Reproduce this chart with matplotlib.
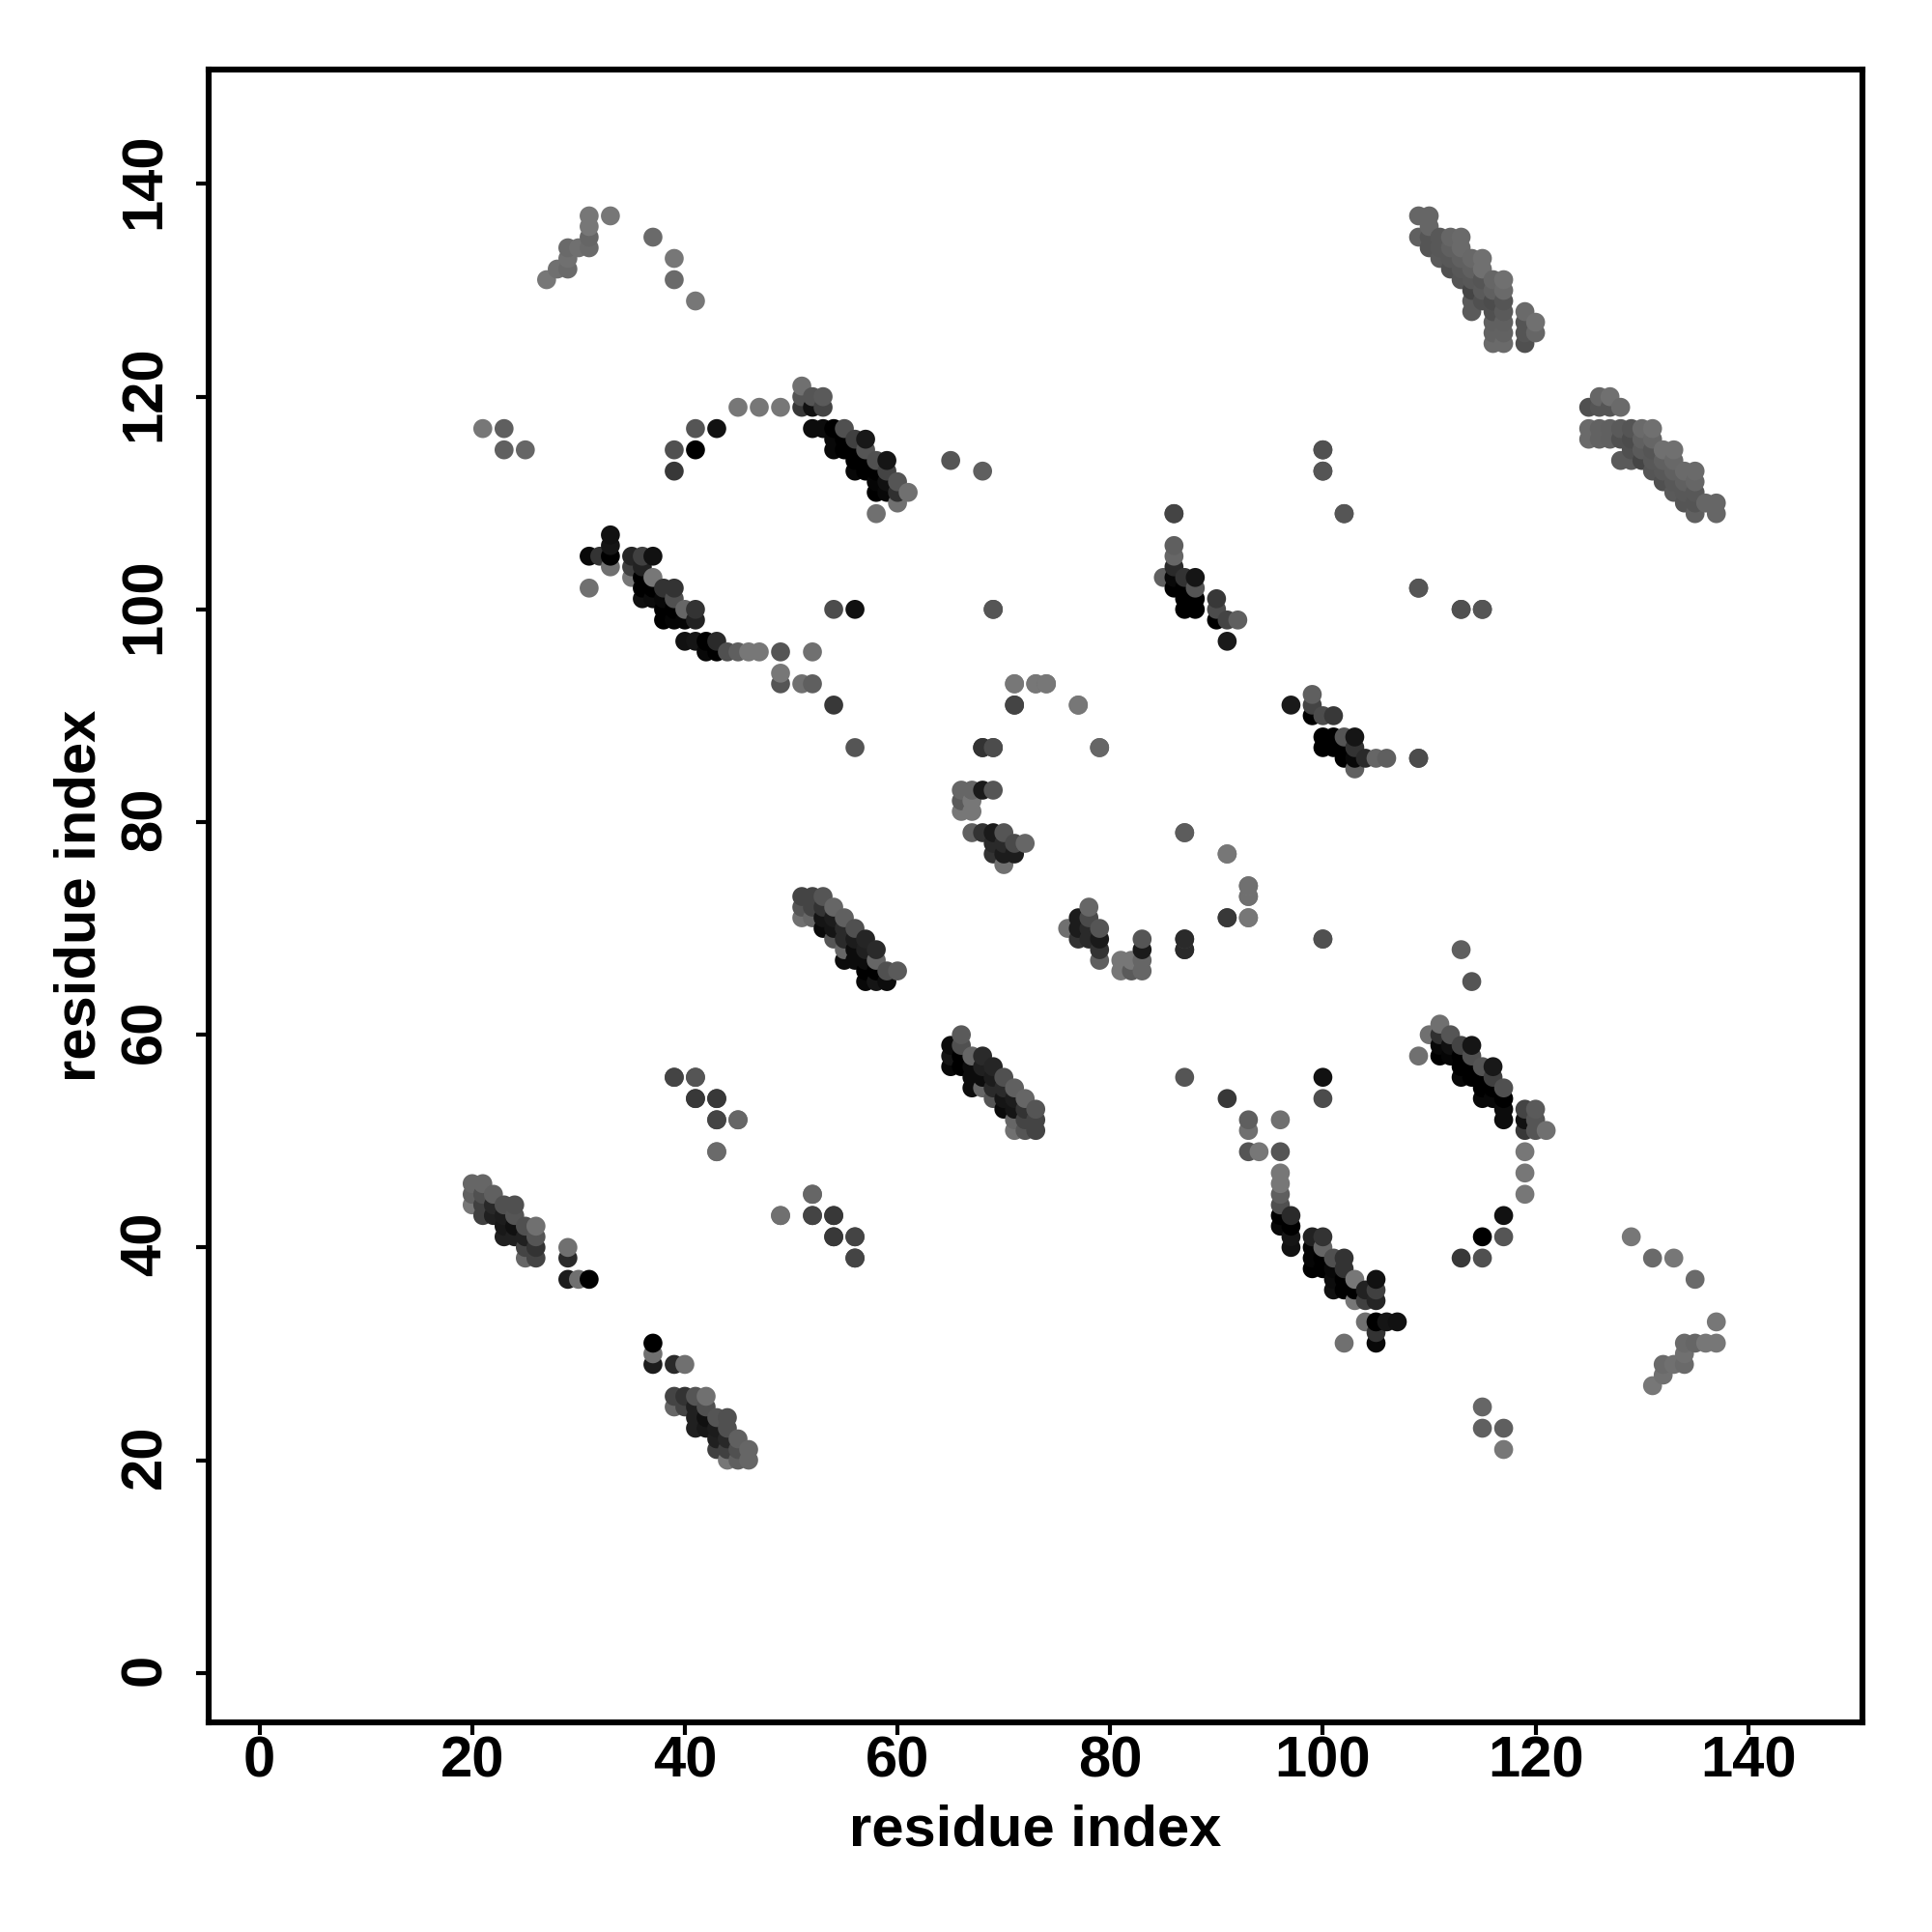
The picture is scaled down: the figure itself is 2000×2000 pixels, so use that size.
import numpy as np
import matplotlib
matplotlib.use("Agg")
import matplotlib.pyplot as plt
from matplotlib.transforms import ScaledTranslation

plt.rcParams["font.family"] = ["Liberation Sans", "DejaVu Sans"]

# contacts as (residue, residue, grey level 0-255), one triangle only
BLOCK_A = [
    (20, 46, 0x66), (21, 46, 0x66),
    (20, 45, 0x60), (21, 45, 0x50), (22, 45, 0x60),
    (20, 44, 0x77), (21, 44, 0x40), (22, 44, 0x28), (23, 44, 0x50), (24, 44, 0x50),
    (21, 43, 0x40), (22, 43, 0x20), (23, 43, 0x1c), (24, 43, 0x55),
    (23, 42, 0x18), (24, 42, 0x10), (25, 42, 0x50), (26, 42, 0x70),
    (23, 41, 0x20), (24, 41, 0x20), (25, 41, 0x20), (26, 41, 0x55),
    (25, 40, 0x44), (26, 40, 0x33), (25, 39, 0x66), (26, 39, 0x44),
    (29, 40, 0x70), (29, 39, 0x2a), (29, 37, 0x1c), (30, 37, 0x70), (31, 37, 0x00),
]
BLOCK_B = [
    (39, 56, 0x44), (41, 56, 0x44), (41, 54, 0x38), (43, 54, 0x38), (43, 52, 0x44),
    (45, 52, 0x66), (43, 49, 0x70), (52, 45, 0x66), (49, 43, 0x6a), (52, 43, 0x44),
    (54, 43, 0x38), (54, 41, 0x38), (56, 41, 0x55), (56, 39, 0x44),
]
BLOCK_C = [
    (31, 137, 0x77), (33, 137, 0x77), (31, 136, 0x77), (31, 135, 0x66), (31, 134, 0x6a),
    (30, 134, 0x70), (29, 134, 0x6a), (29, 133, 0x70), (29, 132, 0x6a), (28, 132, 0x70),
    (27, 131, 0x77), (37, 135, 0x6a), (39, 133, 0x77), (39, 131, 0x6a), (41, 129, 0x77),
    (21, 117, 0x77), (23, 117, 0x5f), (23, 115, 0x60), (25, 115, 0x66),
    (45, 119, 0x77), (47, 119, 0x77), (49, 119, 0x77), (41, 117, 0x55), (43, 117, 0x11),
    (39, 115, 0x50), (41, 115, 0x00), (39, 113, 0x38),
]
BLOCK_D = [
    (33, 107, 0x11), (33, 106, 0x15), (33, 105, 0x00), (31, 105, 0x08), (32, 105, 0x33),
    (33, 104, 0x70), (31, 102, 0x70),
    (35, 105, 0x25), (36, 105, 0x40), (37, 105, 0x11), (35, 104, 0x40), (36, 104, 0x22),
    (35, 103, 0x77), (36, 103, 0x00), (37, 103, 0x77), (36, 102, 0x00), (37, 102, 0x00),
    (38, 102, 0x33), (39, 102, 0x33), (36, 101, 0x10), (37, 101, 0x0c), (38, 101, 0x08),
    (39, 101, 0x50), (38, 100, 0x00), (39, 100, 0x00), (40, 100, 0x66), (41, 100, 0x33),
    (38, 99, 0x00), (39, 99, 0x05), (40, 99, 0x05), (41, 99, 0x22),
    (40, 97, 0x11), (41, 97, 0x15), (42, 97, 0x00), (43, 97, 0x2a), (42, 96, 0x08),
    (43, 96, 0x00), (44, 96, 0x50), (45, 96, 0x5f), (46, 96, 0x77), (47, 96, 0x77),
    (49, 96, 0x55), (52, 96, 0x70), (49, 94, 0x77), (49, 93, 0x55), (51, 93, 0x70),
    (52, 93, 0x5f), (54, 91, 0x38), (56, 87, 0x55), (54, 100, 0x4c), (56, 100, 0x11),
]
BLOCK_E = [
    (51, 121, 0x70), (51, 120, 0x55), (52, 120, 0x55), (53, 120, 0x5a), (51, 119, 0x38),
    (52, 119, 0x11), (53, 119, 0x44),
    (52, 117, 0x0c), (53, 117, 0x0c), (54, 117, 0x00), (55, 117, 0x50),
    (54, 116, 0x08), (55, 116, 0x00), (56, 116, 0x40), (57, 116, 0x18),
    (54, 115, 0x08), (55, 115, 0x00), (56, 115, 0x00), (57, 115, 0x55),
    (56, 114, 0x00), (57, 114, 0x00), (58, 114, 0x50), (59, 114, 0x15),
    (56, 113, 0x08), (57, 113, 0x00), (58, 113, 0x00), (59, 113, 0x44),
    (58, 112, 0x05), (59, 112, 0x10), (60, 112, 0x55),
    (58, 111, 0x00), (59, 111, 0x08), (60, 111, 0x30), (61, 111, 0x70),
    (60, 110, 0x70), (58, 109, 0x70), (65, 114, 0x55), (68, 113, 0x5f),
]
BLOCK_F = [
    (86, 109, 0x4c), (86, 106, 0x5f), (86, 105, 0x66), (86, 104, 0x2a), (85, 103, 0x60),
    (86, 103, 0x08), (86, 102, 0x00), (87, 103, 0x33), (88, 103, 0x15), (87, 102, 0x00),
    (88, 102, 0x55), (87, 101, 0x00), (88, 101, 0x00), (87, 100, 0x00), (88, 100, 0x00),
    (90, 101, 0x38), (90, 100, 0x4c), (90, 99, 0x00), (91, 99, 0x44), (92, 99, 0x5f),
    (91, 97, 0x1a), (100, 115, 0x55), (100, 113, 0x50), (102, 109, 0x55), (109, 102, 0x55),
    (113, 100, 0x55), (115, 100, 0x50), (69, 100, 0x50), (109, 86, 0x44),
]
BLOCK_G = [
    (71, 93, 0x77), (73, 93, 0x70), (74, 93, 0x70), (71, 91, 0x38), (77, 91, 0x77),
    (79, 87, 0x5c), (68, 87, 0x2a), (69, 87, 0x2a),
    (66, 83, 0x66), (67, 83, 0x66), (68, 83, 0x1a), (69, 83, 0x55),
    (66, 82, 0x5a), (67, 82, 0x77), (66, 81, 0x77), (67, 81, 0x77),
    (67, 79, 0x60), (68, 79, 0x33), (69, 79, 0x1a), (70, 79, 0x55),
    (69, 78, 0x2a), (70, 78, 0x2a), (71, 78, 0x4a), (72, 78, 0x66),
    (69, 77, 0x33), (70, 77, 0x1c), (71, 77, 0x1c), (70, 76, 0x70),
]
BLOCK_H = [
    (51, 73, 0x44), (52, 73, 0x44), (53, 73, 0x55),
    (51, 72, 0x55), (52, 72, 0x44), (53, 72, 0x33), (54, 72, 0x66),
    (51, 71, 0x70), (52, 71, 0x66), (53, 71, 0x15), (54, 71, 0x1c), (55, 71, 0x60),
    (53, 70, 0x0a), (54, 70, 0x15), (55, 70, 0x2a), (56, 70, 0x50),
    (54, 69, 0x55), (55, 69, 0x2a), (56, 69, 0x1c), (57, 69, 0x25),
    (55, 68, 0x66), (56, 68, 0x0c), (57, 68, 0x20), (58, 68, 0x2a),
    (55, 67, 0x0c), (56, 67, 0x0c), (57, 67, 0x0c), (58, 67, 0x66),
    (57, 66, 0x00), (58, 66, 0x00), (59, 66, 0x50), (60, 66, 0x5a),
    (57, 65, 0x08), (58, 65, 0x15), (59, 65, 0x0c),
    (87, 79, 0x66), (91, 77, 0x77), (93, 74, 0x77), (93, 73, 0x77), (93, 71, 0x77),
    (91, 71, 0x44), (87, 69, 0x4c), (87, 68, 0x33), (100, 69, 0x55),
]
BLOCK_I = [
    (126, 120, 0x66), (127, 120, 0x70),
    (125, 119, 0x50), (126, 119, 0x55), (127, 119, 0x55), (128, 119, 0x6a),
    (125, 117, 0x6a), (126, 117, 0x62), (127, 117, 0x60), (128, 117, 0x5a),
    (129, 117, 0x55), (130, 117, 0x6a), (131, 117, 0x70),
    (125, 116, 0x6a), (126, 116, 0x62), (127, 116, 0x60), (128, 116, 0x50),
    (129, 116, 0x4c), (130, 116, 0x60), (131, 116, 0x66),
    (129, 115, 0x50), (130, 115, 0x5a), (131, 115, 0x55), (132, 115, 0x70), (133, 115, 0x70),
    (128, 114, 0x5a), (129, 114, 0x5a), (130, 114, 0x45), (131, 114, 0x58),
    (132, 114, 0x60), (133, 114, 0x68),
    (131, 113, 0x55), (132, 113, 0x58), (133, 113, 0x60), (134, 113, 0x6a), (135, 113, 0x6a),
    (132, 112, 0x50), (133, 112, 0x58), (134, 112, 0x60), (135, 112, 0x66),
    (133, 111, 0x5a), (134, 111, 0x58), (135, 111, 0x58),
    (134, 110, 0x55), (135, 110, 0x55), (136, 110, 0x66), (137, 110, 0x66),
    (135, 109, 0x60), (137, 109, 0x66),
]

TICKS = [0, 20, 40, 60, 80, 100, 120, 140]
AXIS_LABEL = "residue index"

blocks = [BLOCK_A, BLOCK_B, BLOCK_C, BLOCK_D, BLOCK_E, BLOCK_F, BLOCK_G, BLOCK_H, BLOCK_I]
half = np.array([c for b in blocks for c in b])
# the map is symmetric
full = np.vstack([half, half[:, [1, 0, 2]]])
# later residues are painted on top
full = full[np.lexsort((full[:, 1], full[:, 0]))]

fig = plt.figure(figsize=(10, 10), dpi=200, facecolor="white")
ax = fig.add_axes([216 / 2000, 1 - 1783 / 2000, 1712 / 2000, 1711 / 2000])
ax.scatter(full[:, 0], full[:, 1], c=full[:, 2], cmap="gray", vmin=0, vmax=255,
           s=50, linewidths=0, zorder=2)
ax.set_xlim(-4.78, 150.74)
ax.set_ylim(-4.66, 150.76)
ax.set_xticks(TICKS)
ax.set_yticks(TICKS)
ax.set_xticklabels(TICKS, fontsize=21.5, fontweight="bold")
ax.set_yticklabels(TICKS, fontsize=21.5, fontweight="bold", rotation=90, va="center")
ax.tick_params(length=4.6, width=1.5)
ax.tick_params(axis="x", pad=0.2)
ax.tick_params(axis="y", pad=9)
ax.set_xlabel(AXIS_LABEL, fontsize=21.5, fontweight="bold", labelpad=5.8)
ax.set_ylabel(AXIS_LABEL, fontsize=21.5, fontweight="bold", labelpad=4.4)
for s in ax.spines.values():
    s.set_linewidth(2.2)

# rotated labels sit a little low otherwise
nudge = ScaledTranslation(0, 1.2 / 72, fig.dpi_scale_trans)
for lab in ax.get_yticklabels():
    lab.set_transform(lab.get_transform() + nudge)

fig.savefig("out.png", dpi=200)
